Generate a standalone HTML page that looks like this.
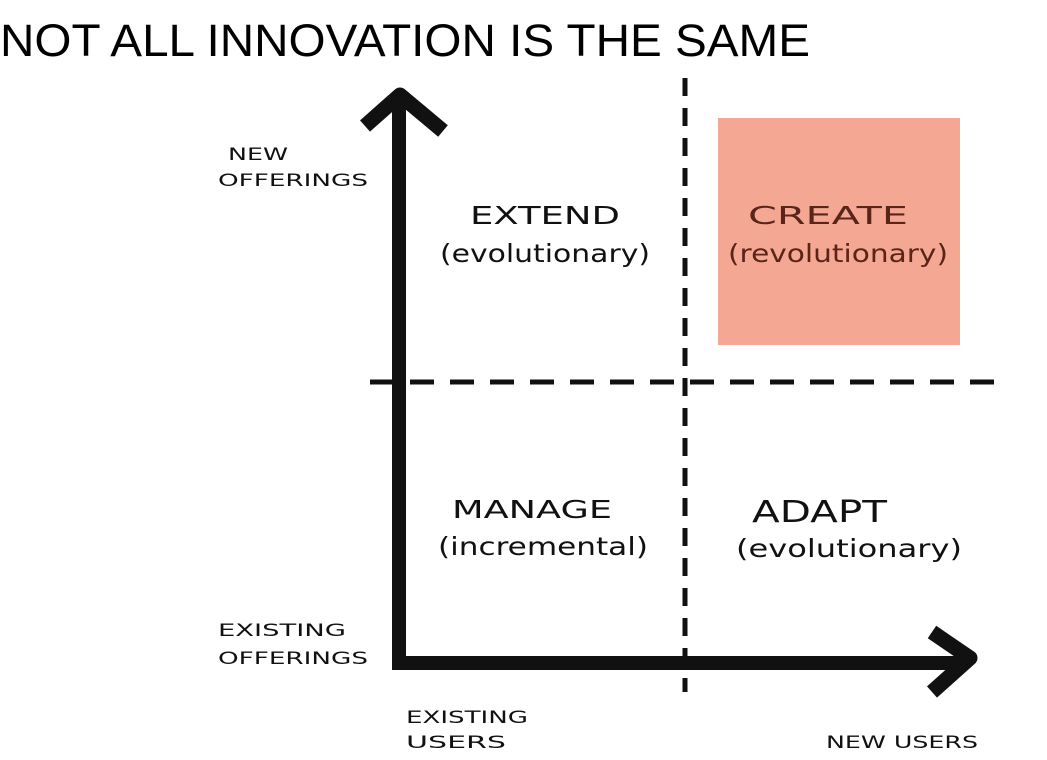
<!DOCTYPE html>
<html><head><meta charset="utf-8"><style>
html,body{margin:0;padding:0;background:#fff;}
svg{display:block;}
.h{font-family:"DejaVu Sans","Liberation Sans",sans-serif;fill:#111;}
</style></head><body>
<svg width="1047" height="760" viewBox="0 0 1047 760" xmlns="http://www.w3.org/2000/svg">
<rect width="1047" height="760" fill="#fff"/>
<text x="0" y="56" font-family="Liberation Sans, sans-serif" font-size="45" fill="#000" textLength="810" lengthAdjust="spacingAndGlyphs">NOT ALL INNOVATION IS THE SAME</text>
<rect x="718" y="118" width="242" height="227" fill="#f4a893"/>
<line x1="685" y1="78" x2="685" y2="692" stroke="#111" stroke-width="5" stroke-dasharray="18,12"/>
<line x1="370" y1="382" x2="995" y2="382" stroke="#111" stroke-width="5" stroke-dasharray="24,16"/>
<line x1="399" y1="98" x2="399" y2="668" stroke="#111" stroke-width="14"/>
<polyline points="365,126 400,95 443,131" fill="none" stroke="#111" stroke-width="15" stroke-linejoin="round"/>
<line x1="392" y1="663" x2="968" y2="663" stroke="#111" stroke-width="14"/>
<polyline points="932,632 970,658 932,692" fill="none" stroke="#111" stroke-width="15" stroke-linejoin="round"/>
<text class="h" x="228" y="160" font-size="17" textLength="60" lengthAdjust="spacingAndGlyphs">NEW</text>
<text class="h" x="218" y="186" font-size="17" textLength="150" lengthAdjust="spacingAndGlyphs">OFFERINGS</text>
<text class="h" x="470" y="224" font-size="25" textLength="150" lengthAdjust="spacingAndGlyphs">EXTEND</text>
<text class="h" x="440" y="262" font-size="25" textLength="210" lengthAdjust="spacingAndGlyphs">(evolutionary)</text>
<text class="h" x="748" y="224" font-size="25" style="fill:#5a2418" textLength="160" lengthAdjust="spacingAndGlyphs">CREATE</text>
<text class="h" x="728" y="262" font-size="25" style="fill:#5a2418" textLength="220" lengthAdjust="spacingAndGlyphs">(revolutionary)</text>
<text class="h" x="452" y="518" font-size="25" textLength="160" lengthAdjust="spacingAndGlyphs">MANAGE</text>
<text class="h" x="438" y="555" font-size="25" textLength="210" lengthAdjust="spacingAndGlyphs">(incremental)</text>
<text class="h" x="752" y="522" font-size="30" textLength="135" lengthAdjust="spacingAndGlyphs">ADAPT</text>
<text class="h" x="736" y="557" font-size="25" textLength="226" lengthAdjust="spacingAndGlyphs">(evolutionary)</text>
<text class="h" x="218" y="636" font-size="17" textLength="128" lengthAdjust="spacingAndGlyphs">EXISTING</text>
<text class="h" x="218" y="664" font-size="17" textLength="150" lengthAdjust="spacingAndGlyphs">OFFERINGS</text>
<text class="h" x="406" y="723" font-size="17" textLength="122" lengthAdjust="spacingAndGlyphs">EXISTING</text>
<text class="h" x="406" y="748" font-size="17" textLength="100" lengthAdjust="spacingAndGlyphs">USERS</text>
<text class="h" x="826" y="748" font-size="17" textLength="152" lengthAdjust="spacingAndGlyphs">NEW USERS</text>
</svg>
</body></html>
